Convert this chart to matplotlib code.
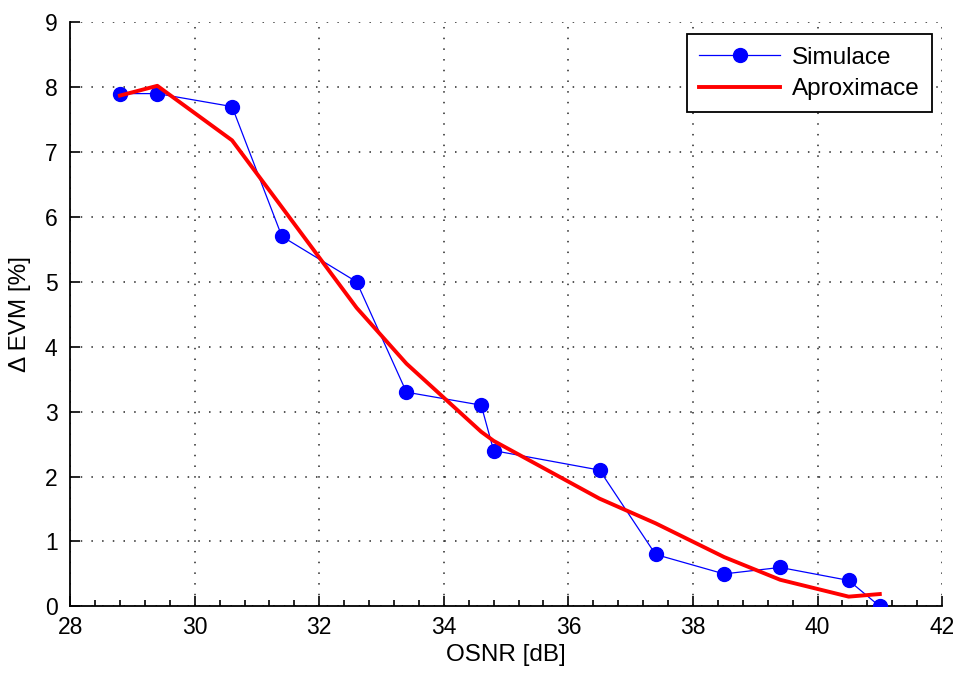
import matplotlib.pyplot as plt
from matplotlib.ticker import MultipleLocator

plt.rcParams['font.family'] = ['Liberation Sans', 'DejaVu Sans']

# OSNR values [dB]
osnr = [28.8, 29.4, 30.6, 31.4, 32.6, 33.4, 34.6, 34.8, 36.5, 37.4, 38.5, 39.4, 40.5, 41.0]
# simulated delta EVM [%]
evm_sim = [7.9, 7.9, 7.7, 5.7, 5.0, 3.3, 3.1, 2.4, 2.1, 0.8, 0.5, 0.6, 0.4, 0.0]
# fitted approximation [%]
evm_fit = [7.87, 8.02, 7.18, 6.15, 4.6, 3.74, 2.69, 2.55, 1.66, 1.28, 0.76, 0.41, 0.15, 0.19]

fig = plt.figure(figsize=(9.54, 6.73), dpi=100)
ax = fig.add_axes([0.0735, 0.099, 0.914, 0.868])

ax.plot(osnr, evm_sim, color='#0000ff', lw=0.9, marker='o', markersize=10,
        label='Simulace', zorder=3)
ax.plot(osnr, evm_fit, color='#ff0000', lw=2.8, label='Aproximace', zorder=4)

ax.set_xlim(28, 42)
ax.set_ylim(0, 9)
ax.xaxis.set_major_locator(MultipleLocator(2))
ax.xaxis.set_minor_locator(MultipleLocator(0.4))
ax.yaxis.set_major_locator(MultipleLocator(1))

ax.spines['top'].set_visible(False)
ax.spines['right'].set_visible(False)
for s in ('left', 'bottom'):
    ax.spines[s].set_linewidth(1.3)

ax.tick_params(which='both', direction='in', labelsize=16.5, width=1.2)
ax.tick_params(which='major', length=7)
ax.tick_params(which='minor', length=4)
ax.tick_params(axis='y', which='minor', left=False)
ax.tick_params(axis='x', pad=7)
ax.tick_params(axis='y', pad=9)

ax.grid(True, which='major', color='k', linestyle=(0, (1, 6)), lw=1.1, alpha=0.85)
ax.set_axisbelow(True)

ax.set_xlabel('OSNR [dB]', fontsize=17.5)
ax.xaxis.set_label_coords(0.5, -0.065, transform=ax.transAxes)
ax.xaxis.label.set_va('top')
ax.set_ylabel('Δ EVM [%]', fontsize=17.5, labelpad=10)

leg = ax.legend(loc='upper right', fontsize=17.5, handlelength=3.3, fancybox=False,
                framealpha=1, edgecolor='k', borderpad=0.5, labelspacing=0.4,
                handletextpad=0.5, bbox_to_anchor=(1.002, 1.0))
leg.get_frame().set_linewidth(1.3)

fig.savefig('out.png', dpi=100)
